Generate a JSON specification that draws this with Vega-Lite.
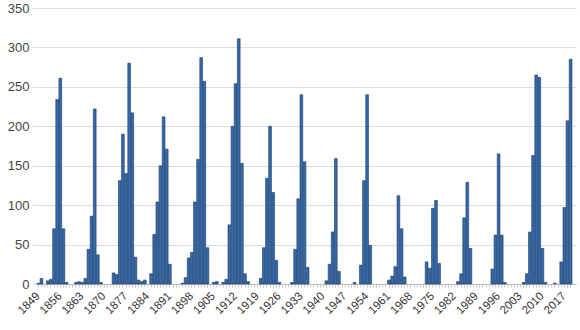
{
  "$schema": "https://vega.github.io/schema/vega-lite/v6.json",
  "width": 540,
  "height": 276,
  "autosize": "none",
  "padding": {"left": 36, "top": 8, "right": 4, "bottom": 46},
  "background": "white",
  "config": {"view": {"stroke": null}, "font": "Liberation Sans"},
  "data": {"values": [
    {"year": 1849, "days": 1}, {"year": 1850, "days": 7}, {"year": 1851, "days": 0}, {"year": 1852, "days": 4},
    {"year": 1853, "days": 6}, {"year": 1854, "days": 70}, {"year": 1855, "days": 234}, {"year": 1856, "days": 261},
    {"year": 1857, "days": 70}, {"year": 1858, "days": 2}, {"year": 1859, "days": 0}, {"year": 1860, "days": 0},
    {"year": 1861, "days": 2}, {"year": 1862, "days": 3}, {"year": 1863, "days": 2}, {"year": 1864, "days": 7},
    {"year": 1865, "days": 44}, {"year": 1866, "days": 86}, {"year": 1867, "days": 222}, {"year": 1868, "days": 37},
    {"year": 1869, "days": 2}, {"year": 1870, "days": 0}, {"year": 1871, "days": 0}, {"year": 1872, "days": 0},
    {"year": 1873, "days": 14}, {"year": 1874, "days": 12}, {"year": 1875, "days": 131}, {"year": 1876, "days": 190},
    {"year": 1877, "days": 140}, {"year": 1878, "days": 280}, {"year": 1879, "days": 217}, {"year": 1880, "days": 34},
    {"year": 1881, "days": 5}, {"year": 1882, "days": 3}, {"year": 1883, "days": 5}, {"year": 1884, "days": 0},
    {"year": 1885, "days": 13}, {"year": 1886, "days": 63}, {"year": 1887, "days": 104}, {"year": 1888, "days": 150},
    {"year": 1889, "days": 212}, {"year": 1890, "days": 171}, {"year": 1891, "days": 25}, {"year": 1892, "days": 0},
    {"year": 1893, "days": 0}, {"year": 1894, "days": 0}, {"year": 1895, "days": 1}, {"year": 1896, "days": 8},
    {"year": 1897, "days": 33}, {"year": 1898, "days": 40}, {"year": 1899, "days": 104}, {"year": 1900, "days": 158},
    {"year": 1901, "days": 287}, {"year": 1902, "days": 257}, {"year": 1903, "days": 46}, {"year": 1904, "days": 0},
    {"year": 1905, "days": 2}, {"year": 1906, "days": 3}, {"year": 1907, "days": 0}, {"year": 1908, "days": 2},
    {"year": 1909, "days": 6}, {"year": 1910, "days": 75}, {"year": 1911, "days": 200}, {"year": 1912, "days": 254},
    {"year": 1913, "days": 311}, {"year": 1914, "days": 153}, {"year": 1915, "days": 13}, {"year": 1916, "days": 3},
    {"year": 1917, "days": 0}, {"year": 1918, "days": 0}, {"year": 1919, "days": 0}, {"year": 1920, "days": 7},
    {"year": 1921, "days": 46}, {"year": 1922, "days": 134}, {"year": 1923, "days": 200}, {"year": 1924, "days": 116},
    {"year": 1925, "days": 30}, {"year": 1926, "days": 2}, {"year": 1927, "days": 0}, {"year": 1928, "days": 0},
    {"year": 1929, "days": 0}, {"year": 1930, "days": 2}, {"year": 1931, "days": 44}, {"year": 1932, "days": 108},
    {"year": 1933, "days": 240}, {"year": 1934, "days": 155}, {"year": 1935, "days": 21}, {"year": 1936, "days": 0},
    {"year": 1937, "days": 0}, {"year": 1938, "days": 0}, {"year": 1939, "days": 0}, {"year": 1940, "days": 0},
    {"year": 1941, "days": 4}, {"year": 1942, "days": 25}, {"year": 1943, "days": 66}, {"year": 1944, "days": 159},
    {"year": 1945, "days": 16}, {"year": 1946, "days": 0}, {"year": 1947, "days": 0}, {"year": 1948, "days": 0},
    {"year": 1949, "days": 0}, {"year": 1950, "days": 2}, {"year": 1951, "days": 0}, {"year": 1952, "days": 24},
    {"year": 1953, "days": 131}, {"year": 1954, "days": 240}, {"year": 1955, "days": 49}, {"year": 1956, "days": 0},
    {"year": 1957, "days": 0}, {"year": 1958, "days": 0}, {"year": 1959, "days": 0}, {"year": 1960, "days": 0},
    {"year": 1961, "days": 5}, {"year": 1962, "days": 10}, {"year": 1963, "days": 22}, {"year": 1964, "days": 112},
    {"year": 1965, "days": 70}, {"year": 1966, "days": 9}, {"year": 1967, "days": 0}, {"year": 1968, "days": 0},
    {"year": 1969, "days": 0}, {"year": 1970, "days": 0}, {"year": 1971, "days": 0}, {"year": 1972, "days": 0},
    {"year": 1973, "days": 28}, {"year": 1974, "days": 20}, {"year": 1975, "days": 96}, {"year": 1976, "days": 106},
    {"year": 1977, "days": 26}, {"year": 1978, "days": 0}, {"year": 1979, "days": 0}, {"year": 1980, "days": 0},
    {"year": 1981, "days": 0}, {"year": 1982, "days": 0}, {"year": 1983, "days": 3}, {"year": 1984, "days": 13},
    {"year": 1985, "days": 84}, {"year": 1986, "days": 129}, {"year": 1987, "days": 45}, {"year": 1988, "days": 0},
    {"year": 1989, "days": 0}, {"year": 1990, "days": 0}, {"year": 1991, "days": 0}, {"year": 1992, "days": 0},
    {"year": 1993, "days": 0}, {"year": 1994, "days": 19}, {"year": 1995, "days": 62}, {"year": 1996, "days": 165},
    {"year": 1997, "days": 62}, {"year": 1998, "days": 2}, {"year": 1999, "days": 0}, {"year": 2000, "days": 0},
    {"year": 2001, "days": 0}, {"year": 2002, "days": 0}, {"year": 2003, "days": 0}, {"year": 2004, "days": 2},
    {"year": 2005, "days": 13}, {"year": 2006, "days": 66}, {"year": 2007, "days": 163}, {"year": 2008, "days": 265},
    {"year": 2009, "days": 262}, {"year": 2010, "days": 45}, {"year": 2011, "days": 2}, {"year": 2012, "days": 0},
    {"year": 2013, "days": 0}, {"year": 2014, "days": 1}, {"year": 2015, "days": 0}, {"year": 2016, "days": 28},
    {"year": 2017, "days": 97}, {"year": 2018, "days": 207}, {"year": 2019, "days": 285}
  ]},
  "mark": {"type": "bar", "fill": "#3469ab", "stroke": "#1e3a5e", "strokeWidth": 0.6},
  "encoding": {
    "x": {
      "field": "year", "type": "ordinal",
      "scale": {"paddingInner": 0.12, "paddingOuter": 0.8, "align": 0.2, "round": false},
      "axis": {
        "title": null,
        "labelExpr": "(datum.value - 1849) % 7 == 0 ? datum.label : ''",
        "labelAngle": -45, "labelAlign": "right", "labelBaseline": "middle",
        "labelPadding": 7, "labelFontSize": 11.5, "labelColor": "#333",
        "labelOverlap": false,
        "domainColor": "#bbbbbb", "tickColor": "#cccccc", "tickSize": 3,
        "grid": false
      }
    },
    "y": {
      "field": "days", "type": "quantitative",
      "scale": {"domain": [0, 350], "nice": false},
      "axis": {
        "title": null, "values": [0, 50, 100, 150, 200, 250, 300, 350],
        "labelFontSize": 13, "labelColor": "#444", "labelPadding": 3,
        "domain": false, "tickColor": "#dddddd", "tickSize": 4,
        "gridColor": "#dddddd"
      }
    },
    "strokeOpacity": {"condition": {"test": "datum.days == 0", "value": 0}, "value": 1}
  }
}
